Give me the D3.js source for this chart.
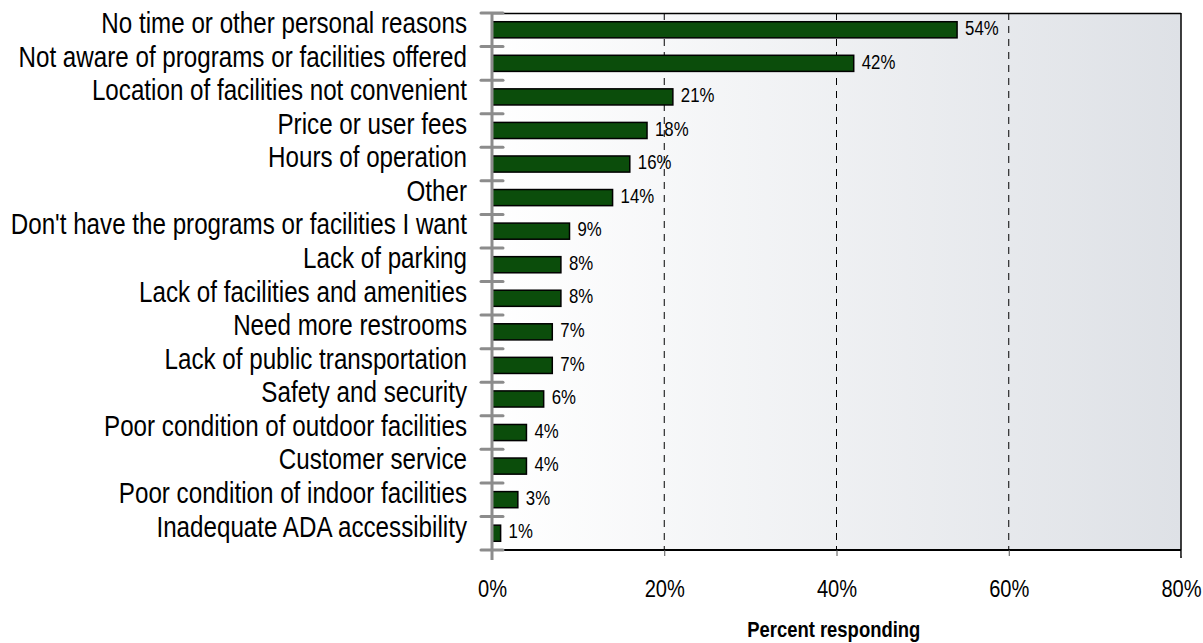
<!DOCTYPE html>
<html>
<head>
<meta charset="utf-8">
<script src="https://cdn.jsdelivr.net/npm/d3@7"></script>
<style>
  html, body { margin: 0; padding: 0; background: #ffffff; }
  svg { display: block; }
</style>
</head>
<body>
<svg id="chart" width="1203" height="643"></svg>
<script>
// Reasons for not using parks and recreation facilities
const categories = [
  "No time or other personal reasons",
  "Not aware of programs or facilities offered",
  "Location of facilities not convenient",
  "Price or user fees",
  "Hours of operation",
  "Other",
  "Don't have the programs or facilities I want",
  "Lack of parking",
  "Lack of facilities and amenities",
  "Need more restrooms",
  "Lack of public transportation",
  "Safety and security",
  "Poor condition of outdoor facilities",
  "Customer service",
  "Poor condition of indoor facilities",
  "Inadequate ADA accessibility"
];
const values = [54, 42, 21, 18, 16, 14, 9, 8, 8, 7, 7, 6, 4, 4, 3, 1];
const xTicks = [0, 20, 40, 60, 80];
const gridTicks = [20, 40, 60];
const axisTitle = "Percent responding";

const svg = d3.select("#chart");
const margin = { left: 492, right: 22, top: 13, bottom: 93 };
const W = 1203, H = 643;
const plotW = W - margin.left - margin.right;
const plotH = H - margin.top - margin.bottom;

// condensed face: use the narrow family when present, otherwise squeeze the regular one
const NARROW = "'Liberation Sans Narrow', 'Arial Narrow'";
const REGULAR = "'Liberation Sans', Arial, sans-serif";
const probe = svg.append("text").attr("font-size", 40).attr("font-family", NARROW + ", monospace").text("Narrow width probe");
const probe2 = svg.append("text").attr("font-size", 40).attr("font-family", "monospace").text("Narrow width probe");
const hasNarrow = Math.abs(probe.node().getComputedTextLength() - probe2.node().getComputedTextLength()) > 1;
probe.remove(); probe2.remove();
const FONT = hasNarrow ? NARROW + ", " + REGULAR : REGULAR;
const SX = hasNarrow ? 1 : 0.82;

// draws a condensed text item at (px, py)
function condensed(sel, px, py) {
  sel.attr("font-family", FONT)
     .attr("transform", (d, i) => `translate(${px(d, i)},${py(d, i)}) scale(${SX},1)`)
     .attr("x", 0).attr("y", 0);
  return sel;
}

const x = d3.scaleLinear().domain([0, 80]).range([0, plotW]);
const y = d3.scaleBand().domain(categories).range([0, plotH]).paddingInner(0.52).paddingOuter(0.26);
const yb = d3.scaleBand().domain(categories).range([0, plotH]);

// background gradient for the plot area
const defs = svg.append("defs");
const grad = defs.append("linearGradient").attr("id", "bg").attr("x1", "0").attr("x2", "1").attr("y1", "0").attr("y2", "0");
grad.append("stop").attr("offset", "0").attr("stop-color", "#ffffff");
grad.append("stop").attr("offset", "1").attr("stop-color", "#dee1e6");

const g = svg.append("g").attr("transform", `translate(${margin.left},${margin.top})`);

g.append("rect").attr("x", 0).attr("y", 0).attr("width", plotW).attr("height", plotH).attr("fill", "url(#bg)");

// dashed gridlines
g.selectAll(".grid").data(gridTicks).join("line")
  .attr("x1", d => x(d)).attr("x2", d => x(d))
  .attr("y1", 0).attr("y2", plotH)
  .attr("stroke", "#000").attr("stroke-width", 1).attr("stroke-dasharray", "7,6");

// top and right borders
g.append("line").attr("x1", 0).attr("x2", plotW).attr("y1", 0.5).attr("y2", 0.5).attr("stroke", "#000").attr("stroke-width", 1.5);
g.append("line").attr("x1", plotW).attr("x2", plotW).attr("y1", 0).attr("y2", plotH + 8).attr("stroke", "#000").attr("stroke-width", 1.5);

// bottom axis
const xAxis = d3.axisBottom(x).tickValues(xTicks).tickFormat(() => "").tickSize(6);
const xa = g.append("g").attr("transform", `translate(0,${plotH})`).call(xAxis);
xa.select(".domain").attr("stroke", "#000").attr("stroke-width", 2).attr("d", `M0,0H${plotW}`);
xa.selectAll(".tick line").attr("stroke", "#555").attr("stroke-width", 1);
xa.selectAll(".tick").append("text")
  .call(condensed, () => 0, () => 38)
  .attr("text-anchor", "middle")
  .attr("dy", "0.35em")
  .attr("font-size", 24.5)
  .attr("fill", "#000")
  .text(d => d + "%");

// bars
g.selectAll(".bar").data(values).join("rect")
  .attr("x", 0)
  .attr("y", (d, i) => y(categories[i]))
  .attr("width", d => x(d))
  .attr("height", y.bandwidth())
  .attr("fill", "#0b4d0b")
  .attr("stroke", "#000")
  .attr("stroke-width", 1.5);

// value labels
g.selectAll(".val").data(values).join("text")
  .call(condensed, d => x(d) + 8, (d, i) => y(categories[i]) + y.bandwidth() / 2 - 2)
  .attr("dy", "0.35em")
  .attr("font-size", 20.5)
  .attr("fill", "#000")
  .text(d => d + "%");

// left axis: thick gray line with category separators
g.append("line").attr("x1", 0).attr("x2", 0).attr("y1", 0).attr("y2", plotH + 10).attr("stroke", "#8c8c8c").attr("stroke-width", 3);
const seps = categories.map(c => yb(c)).concat([plotH]);
g.selectAll(".sep").data(seps).join("line")
  .attr("x1", -11).attr("x2", 11)
  .attr("y1", d => d).attr("y2", d => d)
  .attr("stroke", "#8c8c8c").attr("stroke-width", 3).attr("stroke-linecap", "round");

// category labels
g.selectAll(".cat").data(categories).join("text")
  .call(condensed, () => -25, d => yb(d) + yb.bandwidth() / 2 - 7)
  .attr("dy", "0.35em")
  .attr("text-anchor", "end")
  .attr("font-size", 29.5)
  .attr("fill", "#000")
  .text(d => d);

// axis title
svg.append("text")
  .call(condensed, () => margin.left + plotW * 0.496, () => 637)
  .attr("text-anchor", "middle")
  .attr("font-size", 22.5)
  .attr("font-weight", "bold")
  .attr("fill", "#000")
  .text(axisTitle);
</script>
</body>
</html>
